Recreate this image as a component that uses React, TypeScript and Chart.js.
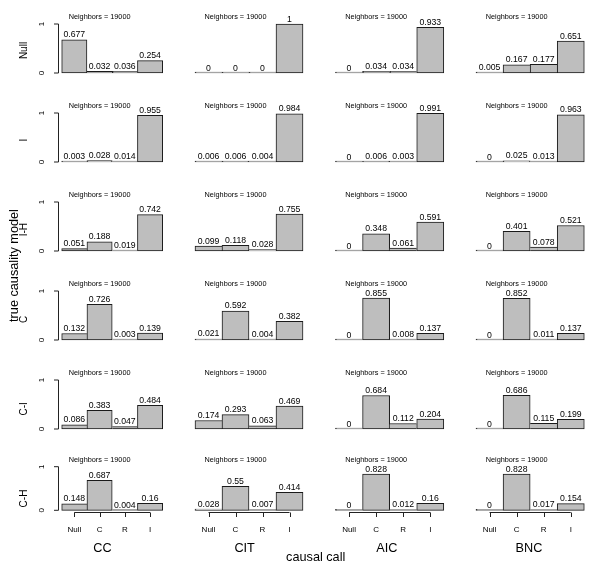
import React, { useEffect, useRef } from "react";
import { Chart, registerables } from "chart.js";
Chart.register(...registerables);

// ---------- data ----------
const CALLS = ["Null", "C", "R", "I"];
const METHODS = ["CC", "CIT", "AIC", "BNC"];
const MODELS = ["Null", "I", "I-H", "C", "C-I", "C-H"];
const PANEL_NOTE = "Neighbors = 19000";
const X_TITLE = "causal call";
const Y_TITLE = "true causality model";
const Y_TICKS = [0, 1];

// each row: [CC, CIT, AIC, BNC], each with values for Null, C, R, I
const MODEL_NULL = [
  [0.677, 0.032, 0.036, 0.254],
  [0, 0, 0, 1],
  [0, 0.034, 0.034, 0.933],
  [0.005, 0.167, 0.177, 0.651],
];
const MODEL_I = [
  [0.003, 0.028, 0.014, 0.955],
  [0.006, 0.006, 0.004, 0.984],
  [0, 0.006, 0.003, 0.991],
  [0, 0.025, 0.013, 0.963],
];
const MODEL_IH = [
  [0.051, 0.188, 0.019, 0.742],
  [0.099, 0.118, 0.028, 0.755],
  [0, 0.348, 0.061, 0.591],
  [0, 0.401, 0.078, 0.521],
];
const MODEL_C = [
  [0.132, 0.726, 0.003, 0.139],
  [0.021, 0.592, 0.004, 0.382],
  [0, 0.855, 0.008, 0.137],
  [0, 0.852, 0.011, 0.137],
];
const MODEL_CI = [
  [0.086, 0.383, 0.047, 0.484],
  [0.174, 0.293, 0.063, 0.469],
  [0, 0.684, 0.112, 0.204],
  [0, 0.686, 0.115, 0.199],
];
const MODEL_CH = [
  [0.148, 0.687, 0.004, 0.16],
  [0.028, 0.55, 0.007, 0.414],
  [0, 0.828, 0.012, 0.16],
  [0, 0.828, 0.017, 0.154],
];
const ALL_VALUES = [MODEL_NULL, MODEL_I, MODEL_IH, MODEL_C, MODEL_CI, MODEL_CH];

// ---------- layout / style ----------
const PAGE_W = 600;
const PAGE_H = 563;
const COL_L = [61.7, 195, 335.5, 476];
const COL_R = [162.7, 303, 443.8, 584.3];
const ROW_ONE = [24, 113, 202, 291, 380, 466.7];
const ROW_ZERO = [73, 162, 251, 340, 429, 510.3];
const ROW_LABEL_Y = [50.5, 140.1, 229.7, 319.3, 408.9, 498.5];
const COL_TITLE_X = [102.5, 244.6, 386.8, 528.9];
const FONT = '"Liberation Sans", Arial, Helvetica, sans-serif';
const BAR_FILL = "#bebebe";
const BAR_EDGE = "#1a1a1a";
const INK = "#000";

function edges(vals: number[], i: number) {
  const left = i === 0 || vals[i] >= vals[i - 1] ? 1 : 0;
  const right = i === vals.length - 1 || vals[i] > vals[i + 1] ? 1 : 0;
  return { top: 1, bottom: 1, left, right };
}

function panelPlugin(r: number, c: number) {
  return {
    id: "panelText",
    afterDatasetsDraw(chart: any) {
      const ctx: CanvasRenderingContext2D = chart.ctx;
      const xs = chart.scales.x;
      const ys = chart.scales.y;
      const vals = ALL_VALUES[r][c];
      const meta = chart.getDatasetMeta(0);
      ctx.save();
      ctx.fillStyle = INK;
      ctx.strokeStyle = "#222";
      ctx.lineWidth = 1;
      ctx.textAlign = "center";

      // value labels
      ctx.font = `8.7px ${FONT}`;
      ctx.textBaseline = "alphabetic";
      meta.data.forEach((bar: any, i: number) => {
        const top = ys.getPixelForValue(vals[i]);
        ctx.fillText(String(vals[i]), bar.x, top - 2.5);
      });

      // panel note
      ctx.font = `7.3px ${FONT}`;
      ctx.textBaseline = "middle";
      ctx.fillText(PANEL_NOTE, xs.getPixelForValue(1), ys.getPixelForValue(1.15));

      const unit = xs.getPixelForValue(1) - xs.getPixelForValue(0);

      // y axis on first column
      if (c === 0) {
        const axX = Math.round(xs.getPixelForValue(0) - unit * 0.66) + 0.5;
        const y0 = ys.getPixelForValue(Y_TICKS[0]);
        const y1 = ys.getPixelForValue(Y_TICKS[Y_TICKS.length - 1]);
        ctx.beginPath();
        ctx.moveTo(axX, y0);
        ctx.lineTo(axX, y1);
        Y_TICKS.forEach((t) => {
          const y = ys.getPixelForValue(t);
          ctx.moveTo(axX, y);
          ctx.lineTo(axX - 4.5, y);
        });
        ctx.stroke();
        ctx.font = `8px ${FONT}`;
        ctx.textBaseline = "alphabetic";
        Y_TICKS.forEach((t) => {
          const y = ys.getPixelForValue(t);
          ctx.save();
          ctx.translate(44.3, y);
          ctx.rotate(-Math.PI / 2);
          ctx.fillText(String(t), 0, 0);
          ctx.restore();
        });
        // row label
        ctx.font = `10px ${FONT}`;
        ctx.save();
        ctx.translate(26.5, ROW_LABEL_Y[r]);
        ctx.rotate(-Math.PI / 2);
        ctx.fillText(MODELS[r], 0, 0);
        ctx.restore();
      }

      // x axis on last row
      if (r === ALL_VALUES.length - 1) {
        const axY = Math.round(ys.getPixelForValue(-0.04)) + 0.5;
        const xa = xs.getPixelForValue(0);
        const xb = xs.getPixelForValue(CALLS.length - 1);
        ctx.beginPath();
        ctx.moveTo(xa, axY);
        ctx.lineTo(xb, axY);
        CALLS.forEach((_, i) => {
          const x = Math.round(xs.getPixelForValue(i)) + 0.5;
          ctx.moveTo(x, axY);
          ctx.lineTo(x, axY + 4.5);
        });
        ctx.stroke();
        ctx.font = `8px ${FONT}`;
        ctx.textBaseline = "alphabetic";
        CALLS.forEach((lab, i) => {
          ctx.fillText(lab, xs.getPixelForValue(i), 531.5);
        });
        ctx.font = `12.7px ${FONT}`;
        ctx.fillText(METHODS[c], COL_TITLE_X[c], 552);
      }

      // global titles
      if (r === 0 && c === 0) {
        ctx.font = `12.7px ${FONT}`;
        ctx.textBaseline = "alphabetic";
        ctx.fillText(X_TITLE, 315.7, 561);
        ctx.save();
        ctx.translate(17.5, 265.5);
        ctx.rotate(-Math.PI / 2);
        ctx.fillText(Y_TITLE, 0, 0);
        ctx.restore();
      }
      ctx.restore();
    },
  };
}

export default function App() {
  const refs = useRef<(HTMLCanvasElement | null)[]>([]);

  useEffect(() => {
    const charts: Chart[] = [];
    for (let r = 0; r < ALL_VALUES.length; r++) {
      for (let c = 0; c < METHODS.length; c++) {
        const canvas = refs.current[r * METHODS.length + c];
        if (!canvas) continue;
        const vals = ALL_VALUES[r][c];
        charts.push(
          new Chart(canvas, {
            type: "bar",
            data: {
              labels: CALLS,
              datasets: [
                {
                  data: vals,
                  backgroundColor: BAR_FILL,
                  borderColor: BAR_EDGE,
                  borderWidth: (ctx: any) => edges(vals, ctx.dataIndex),
                  borderSkipped: false,
                  categoryPercentage: 1,
                  barPercentage: 1,
                  minBarLength: 1,
                  clip: false,
                } as any,
              ],
            },
            options: {
              animation: false,
              responsive: false,
              devicePixelRatio: 1,
              events: [],
              layout: {
                padding: {
                  left: COL_L[c],
                  right: PAGE_W - COL_R[c],
                  top: ROW_ONE[r],
                  bottom: PAGE_H - ROW_ZERO[r],
                },
              },
              scales: {
                x: { display: false, offset: true },
                y: { display: false, min: 0, max: 1 },
              },
              plugins: {
                legend: { display: false },
                tooltip: { enabled: false },
                title: { display: false },
              },
            } as any,
            plugins: [panelPlugin(r, c)],
          })
        );
      }
    }
    return () => charts.forEach((ch) => ch.destroy());
  }, []);

  const cells: number[] = [];
  for (let i = 0; i < ALL_VALUES.length * METHODS.length; i++) cells.push(i);

  return (
    <div
      style={{
        position: "fixed",
        left: 0,
        top: 0,
        width: PAGE_W,
        height: PAGE_H,
        background: "#fff",
        overflow: "hidden",
      }}
    >
      {cells.map((i) => (
        <canvas
          key={i}
          ref={(el) => {
            refs.current[i] = el;
          }}
          width={PAGE_W}
          height={PAGE_H}
          style={{ position: "absolute", left: 0, top: 0, width: PAGE_W, height: PAGE_H }}
        />
      ))}
    </div>
  );
}
